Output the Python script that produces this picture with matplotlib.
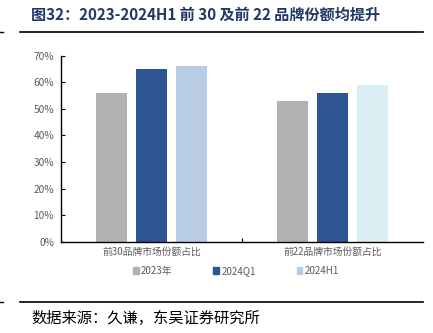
import matplotlib
matplotlib.use("Agg")
import matplotlib.pyplot as plt
from matplotlib.patches import Patch
import numpy as np

plt.rcParams['font.family'] = ['Noto Sans CJK SC', 'DejaVu Sans']

categories = ["前30品牌市场份额占比", "前22品牌市场份额占比"]
series_names = ["2023年", "2024Q1", "2024H1"]
v2023 = [0.56, 0.53]
v2024q1 = [0.65, 0.56]
v2024h1 = [0.66, 0.59]
yticks = [0, 0.1, 0.2, 0.3, 0.4, 0.5, 0.6, 0.7]
ytick_labels = ["0%", "10%", "20%", "30%", "40%", "50%", "60%", "70%"]

c_gray = "#b2b2b2"
c_dark = "#2e5592"
c_light = "#b8cce4"
c_light2 = "#dbeef4"

fig = plt.figure(figsize=(4.33, 3.33), dpi=100)
ax = fig.add_axes([61/433, 1-241.7/333, 362/433, (241.7-55.7)/333])

x = np.arange(len(categories))
w = 0.176
off = 0.221
ax.bar(x - off, v2023, w, color=c_gray)
ax.bar(x, v2024q1, w, color=c_dark)
ax.bar(x + off, v2024h1, w, color=[c_light, c_light2])

ax.set_xlim(-0.5, 1.5)
ax.set_ylim(0, 0.7)
ax.set_yticks(yticks)
ax.set_yticklabels(ytick_labels, fontsize=7.3, color="#595959")
ax.set_xticks([0.5], minor=False)
ax.set_xticklabels([""])
ax.tick_params(axis='x', length=3, width=0.8, direction='in', color='black')
ax.tick_params(axis='y', length=3, width=0.8, direction='in', color='black', pad=5)
for s in ["top", "right"]:
    ax.spines[s].set_visible(False)
ax.spines["left"].set_linewidth(1.0)
ax.spines["bottom"].set_linewidth(1.0)

for xi, c in zip(x, categories):
    ax.text(xi, -0.04, c, ha='center', va='center', fontsize=7, color="#595959",
            transform=ax.transData)

handles = [Patch(color=c_gray), Patch(color=c_dark), Patch(color=c_light)]
fig.legend(handles, series_names, loc='center', bbox_to_anchor=(236/433, 1-271/333),
           ncol=3, frameon=False, fontsize=7, handlelength=0.6, handleheight=0.6,
           handletextpad=0.2, columnspacing=4.2, labelcolor="#595959")

fig.text(31/433, 1-15/333, "图32：2023-2024H1 前 30 及前 22 品牌份额均提升", fontsize=10.9,
         fontweight='bold', color="#1f3864", ha='left', va='center')
fig.add_artist(plt.Line2D([20/433, 423/433], [1-32/333, 1-32/333], color='black', lw=1.2))
fig.add_artist(plt.Line2D([0, 3/433], [1-32/333, 1-32/333], color='black', lw=1.0))
fig.add_artist(plt.Line2D([20/433, 423/433], [1-302/333, 1-302/333], color='black', lw=1.2))
fig.add_artist(plt.Line2D([0, 3/433], [1-302/333, 1-302/333], color='black', lw=1.0))
fig.text(31/433, 1-318/333, "数据来源：久谦，东吴证券研究所", fontsize=11, color="black",
         ha='left', va='center')

fig.savefig("out.png", dpi=100)
